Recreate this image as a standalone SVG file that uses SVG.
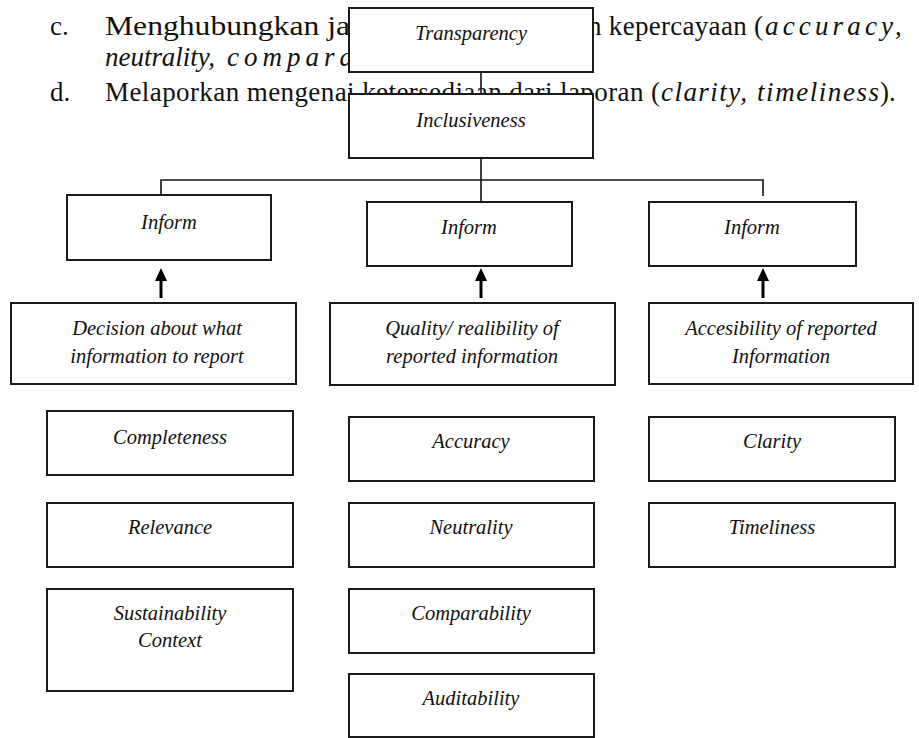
<svg xmlns="http://www.w3.org/2000/svg" width="919" height="738" viewBox="0 0 919 738">
<defs>
<style>
.hd{font-family:"Liberation Serif","Times New Roman",serif;font-size:27px;fill:#111}
.it{font-style:italic}
.box{fill:#fff;stroke:#1a1a1a;stroke-width:2}
.lbl{font-family:"Liberation Serif","Times New Roman",serif;font-style:italic;font-size:20.5px;fill:#111;text-anchor:middle}
.con{fill:none;stroke:#111;stroke-width:1.6}
.arr{fill:none;stroke:#000;stroke-width:3;marker-end:url(#ah)}
</style>
<marker id="ah" viewBox="0 0 13 12" refX="1" refY="6" markerWidth="13" markerHeight="12" markerUnits="userSpaceOnUse" orient="auto">
<path d="M0,0 L13,6 L0,12 z" fill="#000"/>
</marker>
</defs>
<rect width="919" height="738" fill="#fff"/>
<g id="paragraph">
<text class="hd" x="50" y="35">c.</text>
<text class="hd" x="105" y="35" textLength="245" lengthAdjust="spacingAndGlyphs">Menghubungkan ja</text>
<text class="hd" x="588" y="35" textLength="175" lengthAdjust="spacing">n kepercayaan (</text>
<text class="hd it" x="765" y="35" textLength="128" lengthAdjust="spacing">accuracy</text>
<text class="hd" x="895" y="35">,</text>
<text class="hd it" x="105" y="66" textLength="110" lengthAdjust="spacing">neutrality,</text>
<text class="hd it" x="227" y="66" textLength="126" lengthAdjust="spacing">compara</text>
<text class="hd" x="50" y="101">d.</text>
<text class="hd" x="105" y="101" textLength="555" lengthAdjust="spacing">Melaporkan mengenai ketersediaan dari laporan (</text>
<text class="hd it" x="661" y="101" textLength="86" lengthAdjust="spacing">clarity,</text>
<text class="hd it" x="757" y="101" textLength="122" lengthAdjust="spacing">timeliness</text>
<text class="hd" x="880" y="101">).</text>
</g>
<g id="connectors">
<line class="con" x1="481" y1="72" x2="481" y2="94"/>
<polyline class="con" points="161,195 161,180 763,180 763,196"/>
<line class="con" x1="481" y1="158" x2="481" y2="202"/>
<line class="arr" x1="161" y1="298" x2="161" y2="280"/>
<line class="arr" x1="481" y1="298" x2="481" y2="280"/>
<line class="arr" x1="763" y1="298" x2="763" y2="280"/>
</g>
<g id="transparency"><rect class="box" x="349" y="8" width="244" height="64"/><text class="lbl" x="471" y="40">Transparency</text></g>
<g id="inclusiveness"><rect class="box" x="349" y="94" width="244" height="64"/><text class="lbl" x="471" y="127">Inclusiveness</text></g>
<g id="inform1"><rect class="box" x="67" y="195" width="204" height="65"/><text class="lbl" x="169" y="229">Inform</text></g>
<g id="inform2"><rect class="box" x="367" y="202" width="205" height="64"/><text class="lbl" x="469" y="234">Inform</text></g>
<g id="inform3"><rect class="box" x="649" y="202" width="207" height="64"/><text class="lbl" x="752" y="234">Inform</text></g>
<g id="decision"><rect class="box" x="11" y="303" width="285" height="81"/><text class="lbl" x="157" y="335">Decision about what</text><text class="lbl" x="157" y="363">information to report</text></g>
<g id="quality"><rect class="box" x="330" y="303" width="285" height="82"/><text class="lbl" x="472" y="335">Quality/ realibility of</text><text class="lbl" x="472" y="363">reported information</text></g>
<g id="accesibility"><rect class="box" x="649" y="303" width="264" height="81"/><text class="lbl" x="781" y="335">Accesibility of reported</text><text class="lbl" x="781" y="363">Information</text></g>
<g id="completeness"><rect class="box" x="47" y="411" width="246" height="64"/><text class="lbl" x="170" y="444">Completeness</text></g>
<g id="relevance"><rect class="box" x="47" y="503" width="246" height="64"/><text class="lbl" x="170" y="534">Relevance</text></g>
<g id="sustainability"><rect class="box" x="47" y="589" width="246" height="102"/><text class="lbl" x="170" y="620">Sustainability</text><text class="lbl" x="170" y="647">Context</text></g>
<g id="accuracy"><rect class="box" x="349" y="417" width="245" height="64"/><text class="lbl" x="471" y="448">Accuracy</text></g>
<g id="neutrality"><rect class="box" x="349" y="503" width="245" height="64"/><text class="lbl" x="471" y="534">Neutrality</text></g>
<g id="comparability"><rect class="box" x="349" y="589" width="245" height="64"/><text class="lbl" x="471" y="620">Comparability</text></g>
<g id="auditability"><rect class="box" x="349" y="674" width="245" height="63"/><text class="lbl" x="471" y="705">Auditability</text></g>
<g id="clarity"><rect class="box" x="649" y="417" width="246" height="64"/><text class="lbl" x="772" y="448">Clarity</text></g>
<g id="timeliness"><rect class="box" x="649" y="503" width="246" height="64"/><text class="lbl" x="772" y="534">Timeliness</text></g>
</svg>
